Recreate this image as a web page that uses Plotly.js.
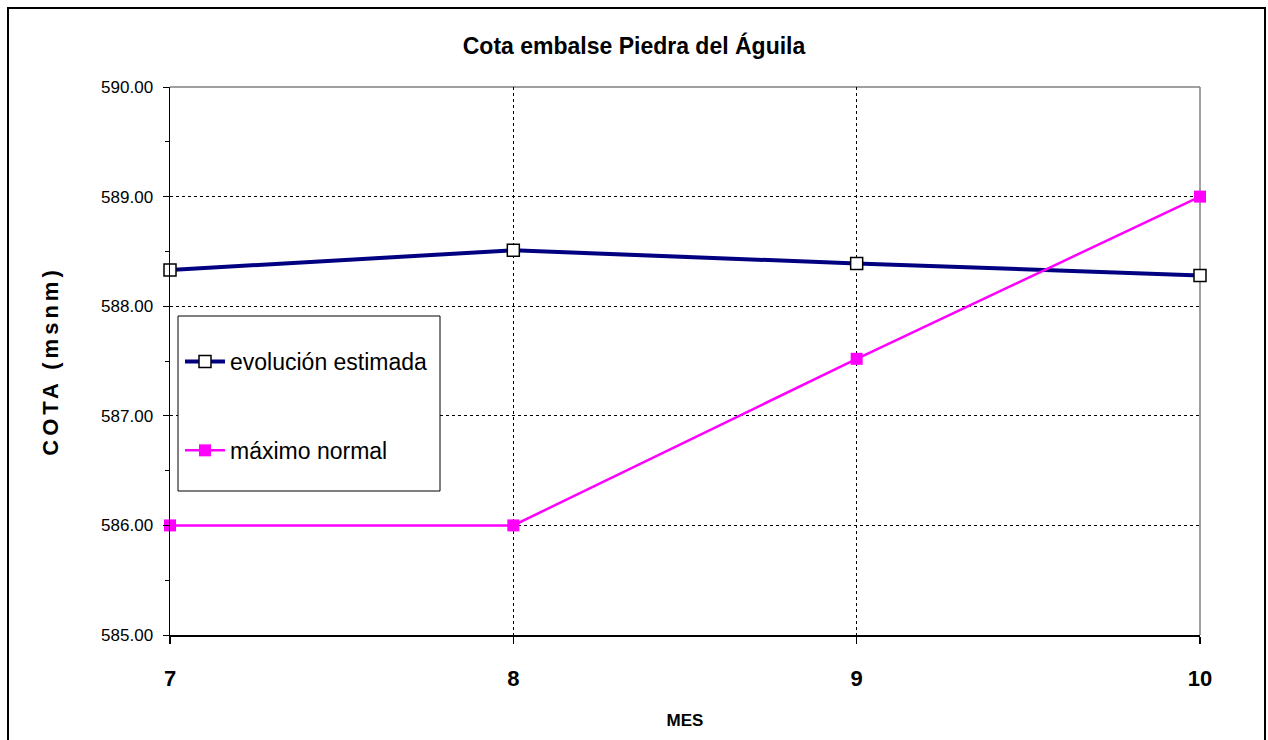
<!DOCTYPE html>
<html>
<head>
<meta charset="utf-8">
<script src="https://cdn.plot.ly/plotly-3.0.1.min.js"></script>
<style>
html,body{margin:0;padding:0;background:#fff;}
#chart{width:1268px;height:740px;}
.ytitle{letter-spacing:4px;}
</style>
</head>
<body>
<div id="chart"></div>
<script>
const meses = [7, 8, 9, 10];
const evolucionEstimada = [588.33, 588.51, 588.39, 588.28];
const maximoNormal = [586.00, 586.00, 587.52, 589.00];
const yTicks = [585, 586, 587, 588, 589, 590];
const chartTitle = 'Cota embalse Piedra del Águila';
const xTitle = 'MES';
const yTitle = 'COTA (msnm)';
const seriesNames = ['evolución estimada', 'máximo normal'];

const L = 170, R = 68, T = 87, B = 105, W = 1268, H = 740;
const pw = W - L - R, ph = H - T - B;
const px = v => (v - L) / pw;
const py = v => (H - B - v) / ph;

const traces = [
  {
    x: meses, y: evolucionEstimada, name: seriesNames[0], type: 'scatter', mode: 'lines+markers',
    line: {color: '#000080', width: 4},
    marker: {symbol: 'square', size: 12, color: '#ffffff', line: {color: '#000000', width: 1.5}},
    legendgroup: 'a', cliponaxis: false
  },
  {
    x: meses, y: maximoNormal, name: seriesNames[1], type: 'scatter', mode: 'lines+markers',
    line: {color: '#FF00FF', width: 2.5},
    marker: {symbol: 'square', size: 12, color: '#FF00FF'},
    legendgroup: 'b', cliponaxis: false
  }
];

const layout = {
  width: W, height: H,
  margin: {l: L, r: R, t: T, b: B},
  paper_bgcolor: '#ffffff', plot_bgcolor: '#ffffff',
  showlegend: true,
  font: {family: 'Liberation Sans, Arial, sans-serif', color: '#000000'},
  title: {
    text: '<b>' + chartTitle + '</b>',
    font: {family: 'Liberation Sans, Arial, sans-serif', size: 23, color: '#000'},
    x: 0.5, xanchor: 'center', y: 1 - 46 / H, yanchor: 'middle'
  },
  xaxis: {
    type: 'linear', range: [7, 10], tickvals: meses, ticktext: meses.map(String),
    showgrid: true, gridcolor: '#000000', gridwidth: 1, griddash: '3px,3px',
    zeroline: false, showline: true, linecolor: '#000000', linewidth: 1.5,
    ticks: 'outside', ticklen: 7, tickcolor: '#000', tickwidth: 1.5,
    tickfont: {size: 22, family: 'Liberation Sans, Arial, sans-serif', weight: 'bold'},
    ticklabelstandoff: 16,
    title: {text: '<b>' + xTitle + '</b>', font: {size: 17}, standoff: 24}
  },
  yaxis: {
    range: [585, 590], tickvals: yTicks, ticktext: yTicks.map(v => v.toFixed(2)),
    showgrid: true, gridcolor: '#000000', gridwidth: 1, griddash: '3px,3px',
    zeroline: false, showline: true, linecolor: '#000000', linewidth: 1.5,
    ticks: 'outside', ticklen: 6, tickcolor: '#000', tickwidth: 1,
    minor: {tickvals: [585.5, 586.5, 587.5, 588.5, 589.5], ticks: 'outside', ticklen: 4, tickcolor: '#000', showgrid: false},
    tickfont: {size: 17},
    ticklabelstandoff: 6,
    title: {text: '<b>' + yTitle + '</b>', font: {size: 22}, standoff: 36}
  },
  legend: {
    x: px(180), y: py(340), xanchor: 'left', yanchor: 'top',
    bgcolor: 'rgba(0,0,0,0)', borderwidth: 0,
    font: {size: 23, family: 'Liberation Sans, Arial, sans-serif'},
    tracegroupgap: 56, itemwidth: 40
  },
  shapes: [
    {type: 'rect', xref: 'paper', yref: 'paper', x0: px(8), x1: px(1265), y0: py(745), y1: py(8),
     line: {color: '#000000', width: 2}, fillcolor: 'rgba(0,0,0,0)', layer: 'below'},
    {type: 'line', xref: 'paper', yref: 'paper', x0: 0, x1: 1, y0: 1, y1: 1, line: {color: '#808080', width: 1.5}, layer: 'below'},
    {type: 'line', xref: 'paper', yref: 'paper', x0: 1, x1: 1, y0: 0, y1: 1, line: {color: '#808080', width: 1.5}, layer: 'below'},
    {type: 'rect', xref: 'paper', yref: 'paper', x0: px(178), x1: px(440), y0: py(491), y1: py(316),
     line: {color: '#000000', width: 1}, fillcolor: '#ffffff', layer: 'above'}
  ]
};

Plotly.newPlot('chart', traces, layout, {displayModeBar: false, staticPlot: true});
</script>
</body>
</html>
